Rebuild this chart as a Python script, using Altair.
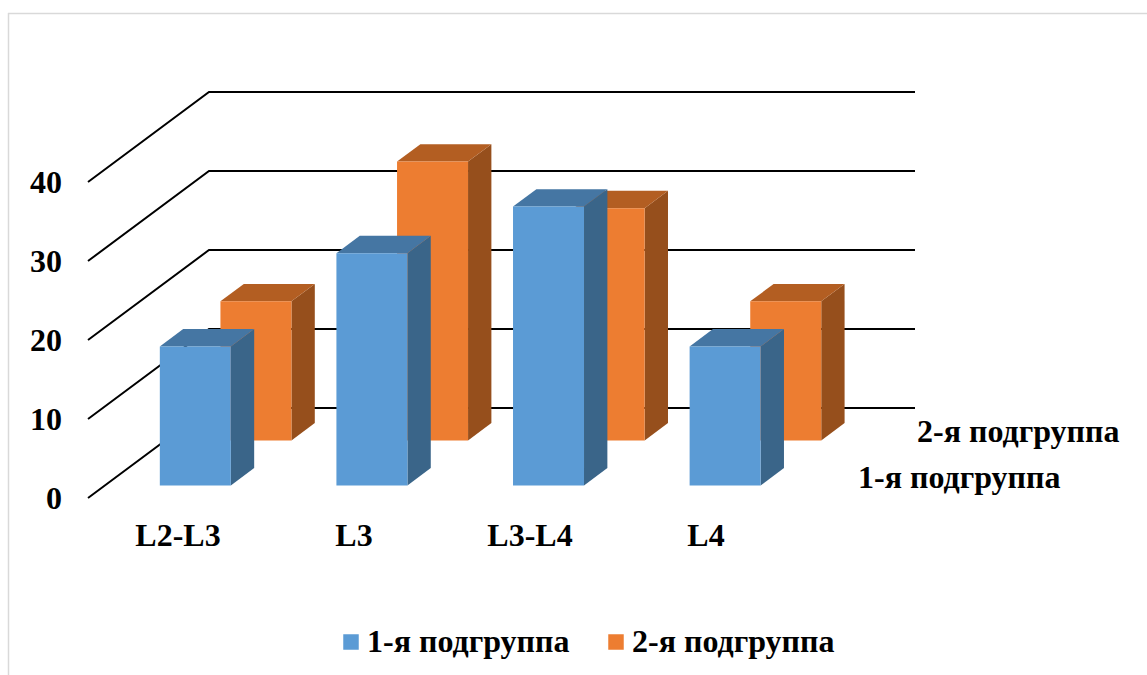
import altair as alt
import pandas as pd

# Chart values (percent of each subgroup)
categories = ["L2-L3", "L3", "L3-L4", "L4"]
series_names = ["1-я подгруппа", "2-я подгруппа"]
group_1 = [17.6, 29.4, 35.3, 17.6]
group_2 = [17.6, 35.3, 29.4, 17.6]
value_ticks = [0, 10, 20, 30, 40]

# Oblique projection of the 3D scene onto the canvas
W, H = 1147, 675
ORIGIN_X, ORIGIN_Y = 88, 498
DEPTH_DX, DEPTH_DY = 121, 90
UNIT = 7.9
FLOOR_END_X = 915
SLOT_START, SLOT_STEP, BAR_W = 55, 176.6, 71
BAR_DEPTH = 0.193
SERIES_DEPTH = {series_names[0]: 0.139, series_names[1]: 0.64}


def project(offset, depth, value):
    return ORIGIN_X + offset + depth * DEPTH_DX, ORIGIN_Y - value * UNIT - depth * DEPTH_DY


def bar_faces(name, values):
    front, side, top = [], [], []
    d0 = SERIES_DEPTH[name]
    d1 = d0 + BAR_DEPTH
    for i, (cat, v) in enumerate(zip(categories, values)):
        left = SLOT_START + i * SLOT_STEP
        right = left + BAR_W
        x0, y_top = project(left, d0, v)
        x1, y_base = project(right, d0, 0)
        front.append(dict(cat=cat, series=name, x=x0, x2=x1, y=y_top, y2=y_base))
        sx, sy_top = project(right, d1, v)
        _, sy_base = project(right, d1, 0)
        side.append(dict(cat=cat, x=x1, y=y_top, y2=y_base))
        side.append(dict(cat=cat, x=sx, y=sy_top, y2=sy_base))
        bx, _ = project(left, d1, v)
        top.append(dict(cat=cat, y=y_top, x=x0, x2=x1))
        top.append(dict(cat=cat, y=sy_top, x=bx, x2=sx))
    return pd.DataFrame(front), pd.DataFrame(side), pd.DataFrame(top)


X = alt.X("x:Q", scale=alt.Scale(domain=[0, W], range=[0, W]), axis=None)
X2 = alt.X2("x2:Q")
Y = alt.Y("y:Q", scale=alt.Scale(domain=[0, H], range=[0, H]), axis=None)
Y2 = alt.Y2("y2:Q")

FONT = dict(font="Liberation Serif", fontWeight="bold", color="#000000")
FONT_SIZE = 32

# Panel edge
edge_top = alt.Chart(pd.DataFrame({"x": [8], "x2": [W], "y": [13.5]})).mark_rule(
    color="#d9d9d9", strokeWidth=1.5).encode(x=X, x2=X2, y=Y)
edge_left = alt.Chart(pd.DataFrame({"x": [8.5], "y": [13], "y2": [H]})).mark_rule(
    color="#d9d9d9", strokeWidth=1.5).encode(x=X, y=Y, y2=Y2)

# Wall and floor gridlines
grid_rows = []
for t in value_ticks:
    xa, ya = project(0, 0, t)
    xb, yb = project(0, 1, t)
    grid_rows += [dict(t=t, o=0, x=xa, y=ya), dict(t=t, o=1, x=xb, y=yb), dict(t=t, o=2, x=FLOOR_END_X, y=yb)]
grid = alt.Chart(pd.DataFrame(grid_rows)).mark_line(color="#000000", strokeWidth=2).encode(
    x=X, y=Y, detail="t:N", order="o:Q")

color = alt.Color(
    "series:N",
    scale=alt.Scale(domain=series_names, range=["#5B9BD5", "#ED7D31"]),
    legend=alt.Legend(
        title=None, orient="none", legendX=335, legendY=626, direction="horizontal",
        symbolType="square", symbolSize=240, symbolStrokeWidth=0, labelOffset=0,
        labelFont="Liberation Serif", labelFontWeight="bold", labelFontSize=FONT_SIZE,
        labelColor="#000000", labelLimit=400, columnPadding=30,
    ),
)


def bar_layers(name, values, side_color, top_color):
    front, side, top = bar_faces(name, values)
    return [
        alt.Chart(side).mark_area(color=side_color, orient="vertical").encode(x=X, y=Y, y2=Y2, detail="cat:N"),
        alt.Chart(top).mark_area(color=top_color, orient="horizontal").encode(x=X, x2=X2, y=Y, detail="cat:N"),
        alt.Chart(front).mark_rect().encode(x=X, x2=X2, y=Y, y2=Y2, color=color),
    ]


rear = bar_layers(series_names[1], group_2, "#964F1C", "#B35E22")
near = bar_layers(series_names[0], group_1, "#3A6589", "#4576A3")

# Value, category and series labels
tick_df = pd.DataFrame({"label": [str(t) for t in value_ticks],
                        "x": [62] * len(value_ticks),
                        "y": [project(0, 0, t)[1] + 11 for t in value_ticks]})
tick_text = alt.Chart(tick_df).mark_text(align="right", baseline="alphabetic", fontSize=FONT_SIZE, **FONT).encode(
    x=X, y=Y, text="label:N")

cat_df = pd.DataFrame({"label": categories,
                       "x": [178 + i * 176 for i in range(len(categories))],
                       "y": [546] * len(categories)})
cat_text = alt.Chart(cat_df).mark_text(align="center", baseline="alphabetic", fontSize=FONT_SIZE, **FONT).encode(
    x=X, y=Y, text="label:N")

series_df = pd.DataFrame({"label": series_names, "x": [858, 917], "y": [488, 442]})
series_text = alt.Chart(series_df).mark_text(align="left", baseline="alphabetic", fontSize=FONT_SIZE, **FONT).encode(
    x=X, y=Y, text="label:N")

chart = alt.layer(
    edge_top, edge_left, grid, *rear, *near, tick_text, cat_text, series_text
).properties(
    width=W, height=H, padding=0, autosize=alt.AutoSizeParams(type="none"),
    background="#ffffff",
).configure_view(stroke=None)

chart.save("out.html", embed_options={"renderer": "svg", "actions": False})
